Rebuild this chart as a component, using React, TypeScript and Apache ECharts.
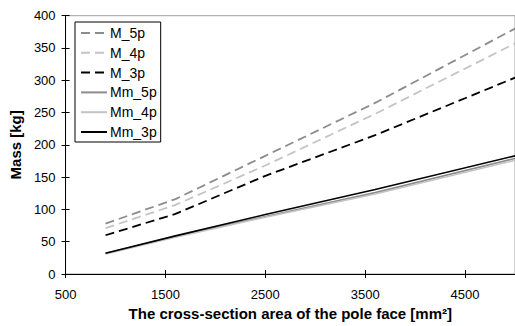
import React, { useEffect, useRef } from "react";
import * as echarts from "echarts";

const xValues = [900, 1600, 2500, 3600, 5000];
const seriesNames = ["M_5p", "M_4p", "M_3p", "Mm_5p", "Mm_4p", "Mm_3p"];
const m5p = [78, 116, 183, 265, 380];
const m4p = [71, 107, 168, 248, 357];
const m3p = [60, 93, 152, 215, 304];
const mm5p = [32, 58, 89, 126, 179];
const mm4p = [31, 57, 88, 124, 176];
const mm3p = [32, 59, 92, 131, 183];
const allValues = [m5p, m4p, m3p, mm5p, mm4p, mm3p];
const colors = ["#8c8c8c", "#c4c4c4", "#000000", "#8c8c8c", "#c4c4c4", "#000000"];
const dashed = [true, true, true, false, false, false];

export default function App() {
  const ref = useRef<HTMLDivElement>(null);
  useEffect(() => {
    if (!ref.current) return;
    const chart = echarts.init(ref.current, null, { renderer: "svg" });
    const font = "'Liberation Sans', Arial, sans-serif";
    const series = seriesNames.map((name, i) => ({
      name,
      type: "line",
      xAxisIndex: 0,
      yAxisIndex: 0,
      symbol: "none",
      data: xValues.map((x, j) => [x, allValues[i][j]]),
      lineStyle: {
        color: colors[i],
        width: dashed[i] ? 1.8 : 1.6,
        type: dashed[i] ? [9, 5] : "solid",
      },
      itemStyle: { color: colors[i] },
      z: i < 3 ? 2 : 3 + (i === 5 ? 1 : 0),
    }));
    chart.setOption({
      animation: false,
      textStyle: { fontFamily: font },
      grid: {
        left: 61,
        top: 15.7,
        width: 456,
        height: 261,
        show: true,
        borderColor: "#a0a0a0",
        borderWidth: 1,
        containLabel: false,
      },
      legend: {
        orient: "vertical",
        left: 75,
        top: 22,
        data: seriesNames,
        itemWidth: 26,
        itemHeight: 12,
        itemGap: 5.8,
        padding: [4, 4, 3, 5],
        borderColor: "#000",
        borderWidth: 1,
        backgroundColor: "#fff",
        itemStyle: { opacity: 0 },
        textStyle: { fontFamily: font, fontSize: 14, color: "#000", padding: [0, 0, 0, -2] },
      },
      xAxis: [
        {
          type: "value",
          min: 500,
          max: 5000,
          interval: 1000,
          name: "The cross-section area of the pole face [mm²]",
          nameLocation: "middle",
          nameGap: 32,
          nameTextStyle: { fontFamily: font, fontSize: 15, fontWeight: "bold", color: "#000" },
          axisLine: { show: true, lineStyle: { color: "#000", width: 1 } },
          axisTick: { show: true, length: 4, lineStyle: { color: "#000" } },
          axisLabel: {
            fontFamily: font,
            fontSize: 13,
            color: "#000",
            margin: 14,
            showMaxLabel: false,
            formatter: (v: number) => String(v),
          },
          splitLine: { show: false },
        },
        {
          type: "value",
          min: 500,
          max: 5000,
          interval: 1000,
          position: "bottom",
          axisLine: { show: false },
          axisTick: { show: true, inside: true, length: 4, lineStyle: { color: "#000" } },
          axisLabel: { show: false },
          splitLine: { show: false },
        },
      ],
      yAxis: [
        {
          type: "value",
          min: 0,
          max: 400,
          interval: 50,
          name: "Mass [kg]",
          nameLocation: "middle",
          nameGap: 32,
          nameTextStyle: { fontFamily: font, fontSize: 15, fontWeight: "bold", color: "#000" },
          axisLine: { show: true, lineStyle: { color: "#000", width: 1 } },
          axisTick: { show: true, length: 4, lineStyle: { color: "#000" } },
          axisLabel: { fontFamily: font, fontSize: 13, color: "#000", margin: 10 },
          splitLine: { show: false },
        },
        {
          type: "value",
          min: 0,
          max: 400,
          interval: 50,
          position: "left",
          axisLine: { show: false },
          axisTick: { show: true, inside: true, length: 4, lineStyle: { color: "#000" } },
          axisLabel: { show: false },
          splitLine: { show: false },
        },
      ],
      series,
    });
    return () => chart.dispose();
  }, []);
  return (
    <div
      ref={ref}
      style={{ position: "fixed", left: 0, top: 0, width: 515, height: 326, background: "#fff" }}
    />
  );
}
